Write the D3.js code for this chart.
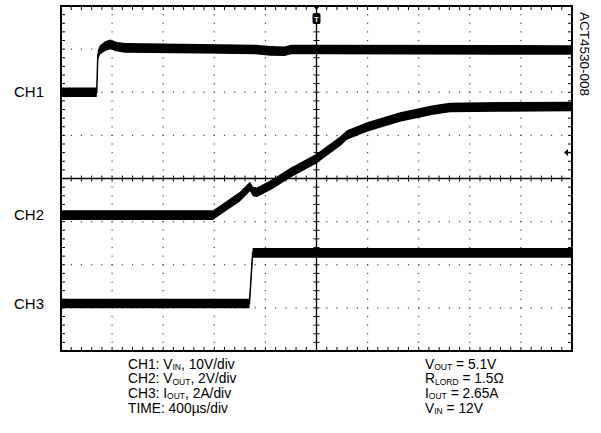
<!DOCTYPE html>
<html>
<head>
<meta charset="utf-8">
<script src="https://cdn.jsdelivr.net/npm/d3@7"></script>
<style>
  html, body { margin: 0; padding: 0; background: #fff; }
  svg { display: block; font-family: "Liberation Sans", Arial, sans-serif; }
</style>
</head>
<body>
<svg id="chart" width="601" height="433"></svg>
<script>
// ---- data ----
// time in microseconds relative to trigger (400 us/div, 10 div)
const ch1Time  = [-2000, -1720, -1712, -1695, -1655, -1615, -1570, -1500, -900, -480, -360, -250, -200, 0, 2000];
const ch1Volts = [0, 0, 8.6, 9.8, 10.7, 11.1, 10.6, 10.3, 10.1, 9.9, 9.6, 9.5, 9.9, 9.9, 9.8];

const ch2Time  = [-2000, -810, -732, -599, -521, -497, -466, -341, -207, 0, 190, 239, 395, 654, 912, 1045, 1436, 2000];
const ch2Volts = [0, 0, 0.32, 0.86, 1.33, 1.10, 1.06, 1.45, 1.96, 2.62, 3.45, 3.72, 4.09, 4.55, 4.88, 4.99, 5.02, 5.04];

const ch3Time  = [-2000, -525, -500, 2000];
const ch3Amps  = [0, 0, 2.35, 2.35];

const channelLabels = ["CH1", "CH2", "CH3"];
const channelPerDiv = [10, 2, 2];          // V/div, V/div, A/div
const channelZeroDiv = [2.0, -0.85, -2.9]; // ground level (divisions from centre)

const noteLeft = [
  ["CH1: V", "IN", ", 10V/div"],
  ["CH2: V", "OUT", ", 2V/div"],
  ["CH3: I", "OUT", ", 2A/div"],
  ["TIME: 400µs/div", "", ""]
];
const noteRight = [
  ["V", "OUT", " = 5.1V"],
  ["R", "LORD", " = 1.5Ω"],
  ["I", "OUT", " = 2.65A"],
  ["V", "IN", " = 12V"]
];
const figureId = "ACT4530-008";

// ---- layout ----
const L = 61, R = 572, T = 6, B = 351;
const svg = d3.select("#chart");

const x = d3.scaleLinear().domain([-2000, 2000]).range([L, R]);
const yDiv = d3.scaleLinear().domain([-4, 4]).range([B, T]);

const xDivs = d3.range(0, 11).map(i => -2000 + i * 400);
const yDivs = d3.range(-4, 5);
const xMinor = d3.range(0, 51).map(i => -2000 + i * 80);
const yMinor = d3.range(0, 41).map(i => -4 + i * 0.2);

const g = svg.append("g");

// dotted graticule
const dots = g.append("g").attr("fill", "#444");
xDivs.slice(1, -1).forEach(t => {
  if (t === 0) return;
  yMinor.slice(1, -1).forEach(d => {
    dots.append("rect").attr("x", x(t) - 0.6).attr("y", yDiv(d) - 0.6).attr("width", 1.2).attr("height", 1.2);
  });
});
yDivs.slice(1, -1).forEach(d => {
  if (d === 0) return;
  xMinor.slice(1, -1).forEach(t => {
    dots.append("rect").attr("x", x(t) - 0.6).attr("y", yDiv(d) - 0.6).attr("width", 1.2).attr("height", 1.2);
  });
});

// centre axes with ticks
const axes = g.append("g").attr("stroke", "#000");
axes.append("line").attr("x1", L).attr("x2", R).attr("y1", yDiv(0)).attr("y2", yDiv(0)).attr("stroke-width", 1.3);
axes.append("line").attr("x1", x(0)).attr("x2", x(0)).attr("y1", T).attr("y2", B).attr("stroke-width", 1.3);
xMinor.slice(1, -1).forEach(t => {
  axes.append("line").attr("x1", x(t)).attr("x2", x(t)).attr("y1", yDiv(0) - 3).attr("y2", yDiv(0) + 3).attr("stroke-width", 1);
  axes.append("line").attr("x1", x(t)).attr("x2", x(t)).attr("y1", T).attr("y2", T + 4).attr("stroke-width", 1);
  axes.append("line").attr("x1", x(t)).attr("x2", x(t)).attr("y1", B - 4).attr("y2", B).attr("stroke-width", 1);
});
yMinor.slice(1, -1).forEach(d => {
  axes.append("line").attr("x1", x(0) - 3).attr("x2", x(0) + 3).attr("y1", yDiv(d)).attr("y2", yDiv(d)).attr("stroke-width", 1);
  axes.append("line").attr("x1", L).attr("x2", L + 4).attr("y1", yDiv(d)).attr("y2", yDiv(d)).attr("stroke-width", 1);
  axes.append("line").attr("x1", R - 4).attr("x2", R).attr("y1", yDiv(d)).attr("y2", yDiv(d)).attr("stroke-width", 1);
});

// frame
g.append("rect").attr("x", L).attr("y", T).attr("width", R - L).attr("height", B - T)
  .attr("fill", "none").attr("stroke", "#000").attr("stroke-width", 2);

// traces
const traces = [
  { t: ch1Time, v: ch1Volts },
  { t: ch2Time, v: ch2Volts },
  { t: ch3Time, v: ch3Amps }
];
const half = 4.8;
traces.forEach((tr, i) => {
  const pts = tr.t.map((t, k) => [x(t), yDiv(channelZeroDiv[i] + tr.v[k] / channelPerDiv[i])]);
  const area = d3.area().x(d => d[0]).y0(d => d[1] - half).y1(d => d[1] + half);
  g.append("path").attr("d", area(pts)).attr("fill", "#000");
  g.append("path").attr("d", d3.line()(pts)).attr("fill", "none").attr("stroke", "#000").attr("stroke-width", 1.5);
});

// channel labels
channelLabels.forEach((lab, i) => {
  const yy = yDiv(channelZeroDiv[i]);
  svg.append("text").attr("x", 14).attr("y", yy + 5).attr("font-size", 15).attr("fill", "#000").text(lab);
});

// trigger marker
const tx = x(0);
svg.append("path").attr("d", `M${tx - 3.5},${T} L${tx + 3.5},${T} L${tx},${T + 4} Z`).attr("fill", "#000");
svg.append("rect").attr("x", tx - 4).attr("y", 13).attr("width", 8).attr("height", 11).attr("rx", 2).attr("fill", "#000");
svg.append("text").attr("x", tx).attr("y", 21.5).attr("text-anchor", "middle").attr("font-size", 8)
  .attr("font-weight", "bold").attr("fill", "#fff").text("T");

// right-side level arrow
const ay = 152.5;
svg.append("path").attr("d", `M${R - 8},${ay} L${R - 4},${ay - 3.5} L${R - 4},${ay + 3.5} Z`).attr("fill", "#000");
svg.append("line").attr("x1", R - 4).attr("x2", R).attr("y1", ay).attr("y2", ay).attr("stroke", "#000").attr("stroke-width", 1.3);

// figure id (rotated)
svg.append("text").attr("transform", "translate(580,12) rotate(90)").attr("font-size", 13.5).attr("fill", "#000").text(figureId);

// notes
function writeNotes(rows, x0, y0, dy) {
  rows.forEach((r, i) => {
    const t = svg.append("text").attr("x", x0).attr("y", y0 + i * dy).attr("font-size", 13.8).attr("fill", "#000");
    t.append("tspan").text(r[0]);
    if (r[1]) t.append("tspan").attr("font-size", 8.5).attr("dy", 1.2).text(r[1]);
    if (r[2]) t.append("tspan").attr("dy", r[1] ? -1.2 : 0).text(r[2]);
  });
}
writeNotes(noteLeft, 128, 368.5, 14.8);
writeNotes(noteRight, 425, 368.5, 14.8);
</script>
</body>
</html>
